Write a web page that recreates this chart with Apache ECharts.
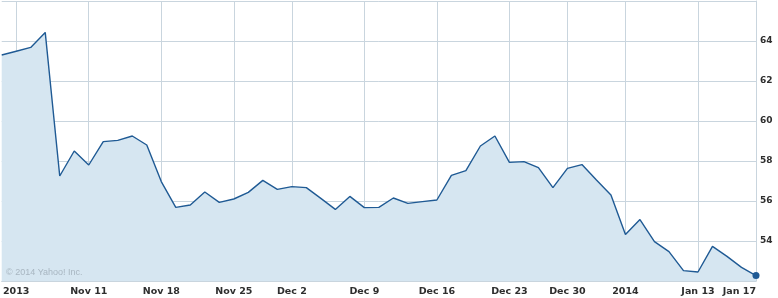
<!DOCTYPE html>
<html>
<head>
<meta charset="utf-8">
<script src="https://cdn.jsdelivr.net/npm/echarts@6/dist/echarts.min.js"></script>
<style>html,body{margin:0;padding:0;background:#fff}#c{width:778px;height:298px}</style>
</head>
<body>
<div id="c"></div>
<script>
const dates = ["2013-11-01","2013-11-04","2013-11-05","2013-11-06","2013-11-07","2013-11-08",
"2013-11-11","2013-11-12","2013-11-13","2013-11-14","2013-11-15",
"2013-11-18","2013-11-19","2013-11-20","2013-11-21","2013-11-22",
"2013-11-25","2013-11-26","2013-11-27","2013-11-29",
"2013-12-02","2013-12-03","2013-12-04","2013-12-05","2013-12-06",
"2013-12-09","2013-12-10","2013-12-11","2013-12-12","2013-12-13",
"2013-12-16","2013-12-17","2013-12-18","2013-12-19","2013-12-20",
"2013-12-23","2013-12-24","2013-12-26","2013-12-27",
"2013-12-30","2013-12-31","2014-01-02","2014-01-03",
"2014-01-06","2014-01-07","2014-01-08","2014-01-09","2014-01-10",
"2014-01-13","2014-01-14","2014-01-15","2014-01-16","2014-01-17"];
const prices = [63.30,63.49,63.68,64.43,57.25,58.50,
57.80,58.97,59.03,59.25,58.80,
56.97,55.68,55.80,56.45,55.93,
56.10,56.43,57.03,56.58,
56.72,56.67,56.13,55.58,56.23,
55.67,55.68,56.15,55.88,55.97,
56.05,57.28,57.52,58.75,59.25,
57.93,57.97,57.67,56.67,
57.63,57.82,57.05,56.30,
54.32,55.07,53.97,53.47,52.52,
52.45,53.73,53.23,52.68,52.27];
const tickLabels = {"2013-11-04":"2013","2013-11-11":"Nov 11","2013-11-18":"Nov 18","2013-11-25":"Nov 25",
"2013-12-02":"Dec 2","2013-12-09":"Dec 9","2013-12-16":"Dec 16","2013-12-23":"Dec 23",
"2013-12-30":"Dec 30","2014-01-06":"2014","2014-01-13":"Jan 13","2014-01-17":"Jan 17"};
const yTicks = {min:52, max:66, step:2};

const showTick = (i, v) => tickLabels.hasOwnProperty(dates[i]);
const gridColor = '#c9d5de';
const chart = echarts.init(document.getElementById('c'), null, {renderer:'canvas'});
chart.setOption({
  animation:false,
  grid:{left:0, right:22, top:1, bottom:17, containLabel:false},
  xAxis:{
    type:'category', data:dates, boundaryGap:false,
    axisLine:{show:true, lineStyle:{color:gridColor, width:1}},
    axisTick:{show:false},
    axisLabel:{interval:showTick, formatter:(v)=>tickLabels[v]||'', margin:6,
      fontFamily:'DejaVu Sans', fontWeight:'bold', fontSize:9.5, color:'#2e2e2e',
      alignMaxLabel:'right', showMaxLabel:true},
    splitLine:{show:true, interval:showTick, lineStyle:{color:gridColor, width:1}}
  },
  yAxis:{
    type:'value', position:'right', min:yTicks.min, max:yTicks.max, interval:yTicks.step,
    axisLine:{show:true, lineStyle:{color:gridColor, width:1}},
    axisTick:{show:false},
    axisLabel:{showMinLabel:false, showMaxLabel:false, margin:4,
      fontFamily:'DejaVu Sans', fontWeight:'bold', fontSize:9, color:'#2e2e2e'},
    splitLine:{show:true, lineStyle:{color:gridColor, width:1}}
  },
  graphic:[{type:'text', left:6, top:268, z:100, silent:true,
    style:{text:'© 2014 Yahoo! Inc.', fill:'#a8b6c1', fontSize:9,
      fontFamily:'Liberation Sans, Arial, sans-serif'}}],
  series:[{
    type:'line', data:prices, showSymbol:true, showAllSymbol:true, symbol:'circle',
    symbolSize:(v,p)=> p.dataIndex===prices.length-1 ? 7 : 0,
    itemStyle:{color:'#1f5a94'},
    lineStyle:{color:'#1f5a94', width:1.4},
    areaStyle:{color:'#d6e6f1', opacity:1, origin:'start'},
    z:1
  }]
});
</script>
</body>
</html>
